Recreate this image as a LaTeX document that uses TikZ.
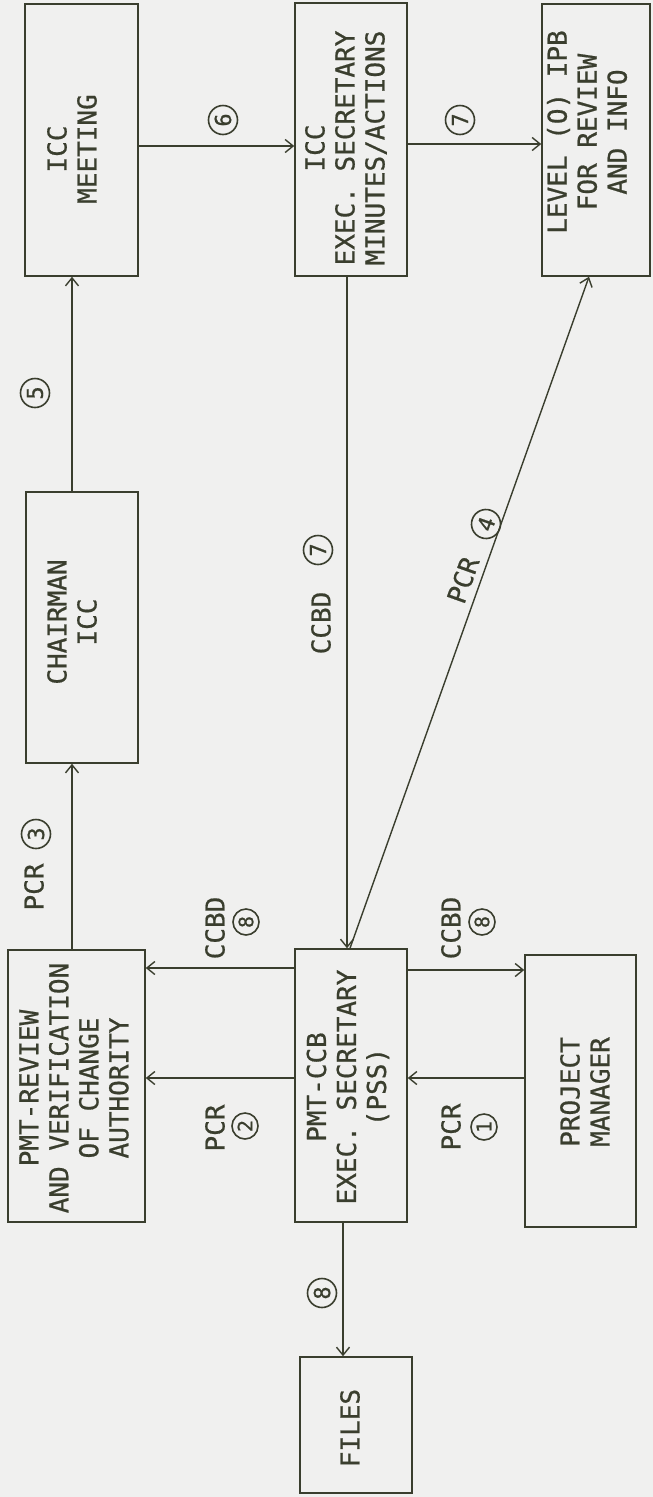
\documentclass[tikz,border=0pt]{standalone}
\usepackage{fontspec}
\newfontfamily\tw[FakeBold=0.7]{DejaVu Sans Mono}
\usetikzlibrary{arrows.meta,calc}
\definecolor{ink}{RGB}{58,62,46}
\definecolor{paper}{RGB}{240,240,239}
\begin{document}
\begin{tikzpicture}[x=1pt,y=-1pt,
  box/.style={draw=ink,line width=1.5pt,rectangle,inner sep=0pt},
  lab/.style={text=ink,align=center,font=\tw\fontsize{26}{30}\selectfont,inner sep=0pt},
  txt/.style={lab,rotate=90},
  cbase/.style={draw=ink,line width=1.6pt,circle,inner sep=0pt,minimum size=29pt,text=ink,font=\tw\fontsize{22}{22}\selectfont},
  cnum/.style={cbase,rotate=90},
  cnums/.style={cnum,minimum size=26pt,font=\tw\fontsize{20}{20}\selectfont},
  arr/.style={draw=ink,line width=1.4pt,-{Straight Barb[length=8pt,width=13pt,line width=1.4pt]}}]
\fill[paper] (0,0) rectangle (653,1497);
\useasboundingbox (0,0) rectangle (653,1497);
% boxes
\node[box,minimum width=113pt,minimum height=272pt] (meet) at (81.5,140) {};
\node[box,minimum width=112pt,minimum height=273pt] (iccsec) at (351,139.5) {};
\node[box,minimum width=108pt,minimum height=272pt] (level) at (596,140) {};
\node[box,minimum width=112pt,minimum height=271pt] (chair) at (82,627.5) {};
\node[box,minimum width=137pt,minimum height=272pt] (review) at (76.5,1086) {};
\node[box,minimum width=112pt,minimum height=273pt] (ccb) at (351,1085.5) {};
\node[box,minimum width=111pt,minimum height=272pt] (pm) at (580.5,1091) {};
\node[box,minimum width=112pt,minimum height=136pt] (files) at (356,1425) {};
% box texts
\node[txt] (tmeet) at (72,149) {ICC\\MEETING};
\node[txt] (ticcsec) at (346,148) {ICC\\EXEC. SECRETARY\\MINUTES/ACTIONS};
\node[txt] (tlevel) at (587,132) {LEVEL (O) IPB\\FOR REVIEW\\AND INFO};
\node[txt] (tchair) at (72,622) {CHAIRMAN\\ICC};
\node[txt] (treview) at (74,1088) {PMT-REVIEW\\AND VERIFICATION\\OF CHANGE\\AUTHORITY};
\node[txt] (tccb) at (348,1087) {PMT-CCB\\EXEC. SECRETARY\\(PSS)};
\node[txt] (tpm) at (585,1092) {PROJECT\\MANAGER};
\node[txt] (tfiles) at (350,1428) {FILES};
% helper coordinates
\coordinate (h6) at (0,146);
\coordinate (h7) at (0,144);
\coordinate (v5) at (72,0);
\coordinate (h8l) at (0,968);
\coordinate (h8r) at (0,970);
\coordinate (h2) at (0,1078);
\coordinate (v7) at (347,0);
\coordinate (vf) at (343,0);
\coordinate (d1) at (350,0);
\coordinate (d2) at (589,0);
% connectors
\draw[arr] (meet.east |- h6) -- (iccsec.west |- h6);
\draw[arr] (iccsec.east |- h7) -- (level.west |- h7);
\draw[arr] (chair.north -| v5) -- (meet.south -| v5);
\draw[arr] (review.north -| v5) -- (chair.south -| v5);
\draw[arr] (ccb.west |- h8l) -- (review.east |- h8l);
\draw[arr] (ccb.west |- h2) -- (review.east |- h2);
\draw[arr] (ccb.east |- h8r) -- (pm.west |- h8r);
\draw[arr] (pm.west |- h2) -- (ccb.east |- h2);
\draw[arr] (iccsec.south -| v7) -- (ccb.north -| v7);
\draw[arr] (ccb.north -| d1) -- (level.south -| d2);
\draw[arr] (ccb.south -| vf) -- (files.north -| vf);
% labels
\node[cnum] (n6) at (223,120) {6};
\node[cnum] (n7a) at (460,120) {7};
\node[cnum] (n5) at (35,393) {5};
\node[txt] (l7) at (321,623) {CCBD};
\node[cnum] (n7b) at (318,550) {7};
\node[lab,rotate=70.4] (l4) at (463,580) {PCR};
\node[cbase,rotate=70.4] (n4) at (486,524) {4};
\node[txt] (l3) at (34,887) {PCR};
\node[cnum] (n3) at (36,834) {3};
\node[txt] (l8a) at (215,928) {CCBD};
\node[cnums] (n8a) at (246,922) {8};
\node[txt] (l8b) at (451,928) {CCBD};
\node[cnums] (n8b) at (482,922) {8};
\node[txt] (l2) at (215,1128) {PCR};
\node[cnums] (n2) at (245,1126) {2};
\node[txt] (l1) at (451,1127) {PCR};
\node[cnums] (n1) at (484,1127) {1};
\node[cnum] (n8c) at (322,1293) {8};
\end{tikzpicture}
\end{document}
